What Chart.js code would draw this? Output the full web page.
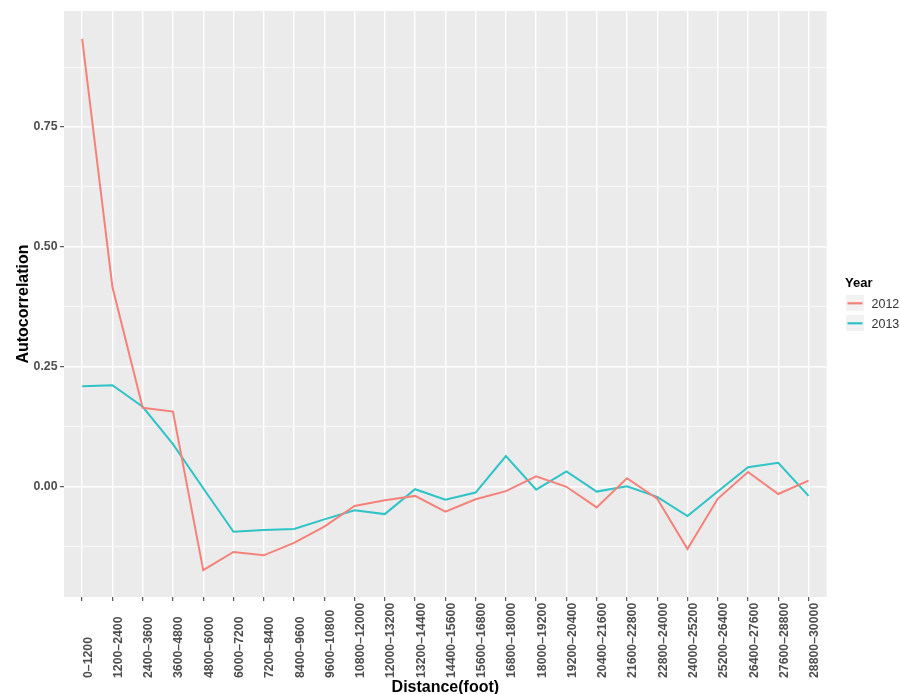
<!DOCTYPE html>
<html>
<head>
<meta charset="utf-8">
<script src="https://cdn.jsdelivr.net/npm/chart.js@4/dist/chart.umd.min.js"></script>
<style>
  html, body { margin: 0; padding: 0; background: #ffffff; }
  #wrap { width: 900px; height: 694px; position: relative; }
</style>
</head>
<body>
<div id="wrap"><canvas id="c" width="900" height="694"></canvas></div>
<script>
// Distance bins (feet)
const categories = [
  '0–1200', '1200–2400', '2400–3600', '3600–4800', '4800–6000',
  '6000–7200', '7200–8400', '8400–9600', '9600–10800', '10800–12000',
  '12000–13200', '13200–14400', '14400–15600', '15600–16800', '16800–18000',
  '18000–19200', '19200–20400', '20400–21600', '21600–22800', '22800–24000',
  '24000–25200', '25200–26400', '26400–27600', '27600–28800', '28800–30000'
];

// Spatial autocorrelation per distance bin
const values2012 = [
  0.934, 0.416, 0.164, 0.156, -0.175,
  -0.137, -0.144, -0.118, -0.084, -0.041,
  -0.029, -0.020, -0.053, -0.027, -0.010,
  0.021, -0.001, -0.044, 0.017, -0.026,
  -0.131, -0.026, 0.030, -0.016, 0.012
];
const values2013 = [
  0.209, 0.211, 0.166, 0.088, -0.004,
  -0.095, -0.091, -0.089, -0.069, -0.050,
  -0.058, -0.006, -0.028, -0.013, 0.063,
  -0.007, 0.031, -0.011, 0.000, -0.022,
  -0.062, -0.011, 0.040, 0.049, -0.020
];

const seriesNames = ['2012', '2013'];
const legendTitle = 'Year';

// Labelled y ticks and the minor grid between them
const yMajorTicks = [0.00, 0.25, 0.50, 0.75];
const yMinorTicks = [-0.125, 0.125, 0.375, 0.625, 0.875];

const FONT = '"Liberation Sans", Arial, Helvetica, sans-serif';
Chart.defaults.font.family = FONT;

const isMajorY = v => yMajorTicks.some(m => Math.abs(m - v) < 1e-9);

// Grey panel behind the grid
const panelBackground = {
  id: 'panelBackground',
  beforeDraw(chart) {
    const { ctx, chartArea: a, width, height } = chart;
    ctx.save();
    ctx.fillStyle = '#ffffff';
    ctx.fillRect(0, 0, width, height);
    ctx.fillStyle = '#EBEBEB';
    ctx.fillRect(a.left, a.top, a.right - a.left, a.bottom - a.top);
    ctx.restore();
  }
};

// Vertical category labels, starting from a common baseline below the axis
const xLabels = {
  id: 'xLabels',
  afterDraw(chart) {
    const { ctx } = chart;
    const xs = chart.scales.x;
    ctx.save();
    ctx.fillStyle = '#4D4D4D';
    ctx.font = 'bold 12.3px ' + FONT;
    ctx.textAlign = 'left';
    ctx.textBaseline = 'alphabetic';
    categories.forEach((lab, i) => {
      const px = xs.getPixelForValue(i);
      ctx.save();
      ctx.translate(px + 9.5, 678);
      ctx.rotate(-Math.PI / 2);
      ctx.fillText(lab, 0, 0);
      ctx.restore();
    });
    ctx.restore();
  }
};

// Legend with title and keyed line swatches
const yearLegend = {
  id: 'yearLegend',
  afterDraw(chart) {
    const { ctx } = chart;
    ctx.save();
    ctx.fillStyle = '#000000';
    ctx.font = 'bold 13px ' + FONT;
    ctx.textAlign = 'left';
    ctx.textBaseline = 'alphabetic';
    ctx.fillText(legendTitle, 845, 286.5);
    chart.data.datasets.forEach((ds, i) => {
      const top = 295 + i * 20;
      ctx.fillStyle = '#F2F2F2';
      ctx.fillRect(846, top, 18, 16);
      ctx.strokeStyle = ds.borderColor;
      ctx.lineWidth = 2.2;
      ctx.beginPath();
      ctx.moveTo(847.5, top + 8.3);
      ctx.lineTo(862.5, top + 8.3);
      ctx.stroke();
      ctx.fillStyle = '#333333';
      ctx.font = '12.5px ' + FONT;
      ctx.fillText(ds.label, 871.5, top + 13.3);
    });
    ctx.restore();
  }
};

const toPoints = arr => arr.map((v, i) => ({ x: i, y: v }));

new Chart(document.getElementById('c'), {
  type: 'line',
  data: {
    datasets: [
      { label: seriesNames[0], data: toPoints(values2012), borderColor: '#F5827A',
        borderWidth: 2, pointRadius: 0, tension: 0, fill: false },
      { label: seriesNames[1], data: toPoints(values2013), borderColor: '#2EC3C6',
        borderWidth: 2, pointRadius: 0, tension: 0, fill: false }
    ]
  },
  options: {
    responsive: false,
    animation: false,
    events: [],
    layout: { padding: { left: 0, top: 11, right: 73.3, bottom: 0 } },
    plugins: {
      legend: { display: false },
      tooltip: { enabled: false },
      title: { display: false }
    },
    scales: {
      x: {
        type: 'linear',
        min: -0.6,
        max: categories.length - 1 + 0.6,
        afterBuildTicks(scale) {
          scale.ticks = categories.map((_, i) => ({ value: i }));
        },
        afterFit(scale) { scale.height = 97; },
        ticks: { display: false },
        grid: {
          color: '#ffffff',
          lineWidth: 1.4,
          drawTicks: true,
          tickLength: 4,
          tickColor: '#333333',
          tickWidth: 1
        },
        border: { display: false },
        title: {
          display: true,
          text: 'Distance(foot)',
          color: '#000000',
          font: { size: 16, weight: 'bold', lineHeight: 1 },
          padding: { top: 0, bottom: -1.5 }
        }
      },
      y: {
        type: 'linear',
        min: -0.231,
        max: 0.992,
        afterBuildTicks(scale) {
          scale.ticks = yMinorTicks.concat(yMajorTicks)
            .sort((a, b) => a - b)
            .map(v => ({ value: v }));
        },
        afterFit(scale) { scale.width = 64; },
        ticks: {
          color: '#4D4D4D',
          padding: 2.5,
          font: { size: 12.3, weight: 'bold' },
          callback: v => (isMajorY(v) ? v.toFixed(2) : '')
        },
        grid: {
          color: '#ffffff',
          lineWidth: ctx => (isMajorY(ctx.tick.value) ? 1.4 : 0.7),
          drawTicks: true,
          tickLength: 4,
          tickColor: ctx => (isMajorY(ctx.tick.value) ? '#333333' : 'rgba(0,0,0,0)'),
          tickWidth: 1
        },
        border: { display: false },
        title: {
          display: true,
          text: 'Autocorrelation',
          color: '#000000',
          font: { size: 16, weight: 'bold', lineHeight: 1 },
          padding: { top: 15.5, bottom: 0 }
        }
      }
    }
  },
  plugins: [panelBackground, xLabels, yearLegend]
});
</script>
</body>
</html>
